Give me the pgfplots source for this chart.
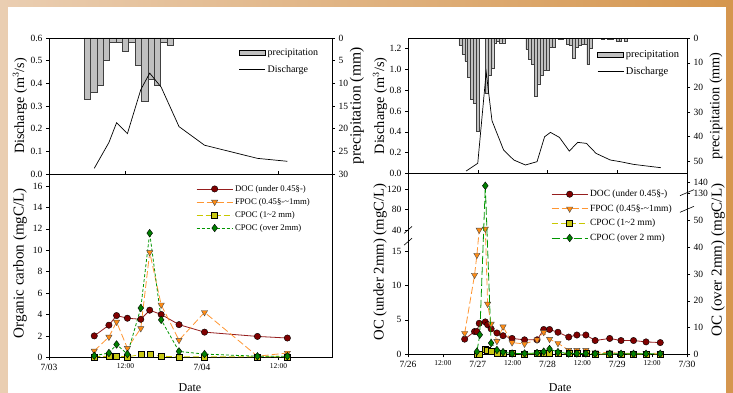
\documentclass[border=0pt]{standalone}
\usepackage{fontspec}
\setmainfont{Liberation Serif}
\usepackage{graphicx}
\usepackage{pgfplots}
\usepackage{pgfplotstable}
\pgfplotsset{compat=1.18}

\definecolor{bgbeige}{RGB}{234,206,178}
\definecolor{bgorange}{RGB}{213,150,78}
\definecolor{bargray}{RGB}{192,192,192}
\definecolor{docline}{RGB}{150,30,30}
\definecolor{docfill}{RGB}{128,0,0}
\definecolor{fpocline}{RGB}{255,150,50}
\definecolor{fpocfill}{RGB}{255,140,20}
\definecolor{cpocline}{RGB}{200,200,0}
\definecolor{cpocfill}{RGB}{200,200,20}
\definecolor{cpgline}{RGB}{0,150,0}
\definecolor{cpgfill}{RGB}{0,128,0}

\pgfplotsset{
  base/.style={scale only axis, anchor=south west,
    /pgf/number format/assume math mode=true,
    tick label style={font=\fontsize{9.5}{10}\selectfont},
    tick align=outside, major tick length=3pt,
    axis line style={line width=0.6pt},
    every tick/.style={black, line width=0.5pt},
    label style={font=\fontsize{12}{12}\selectfont},
    clip=false},
  docstyle/.style={docline, line width=0.8pt, mark=*, mark size=3.2pt,
    mark options={solid, fill=docfill, draw=black, line width=0.4pt}},
  fpocstyle/.style={fpocline, line width=0.8pt, dash pattern=on 7pt off 3pt, mark=triangle*, mark size=3.6pt,
    mark options={solid, rotate=180, fill=fpocfill, draw=black!70, line width=0.4pt}},
  cp12style/.style={cpocline, line width=0.8pt, dash pattern=on 6pt off 3pt, mark=square*, mark size=3pt,
    mark options={solid, fill=cpocfill, draw=black, line width=0.4pt}},
  cp2style/.style={cpgline, line width=0.8pt, dash pattern=on 3pt off 2pt, mark=diamond*, mark size=3.8pt,
    mark options={solid, fill=cpgfill, draw=black, line width=0.4pt}},
  cp2styleR/.style={cpgline, line width=0.8pt, dash pattern=on 8pt off 3pt, mark=diamond*, mark size=3.8pt,
    mark options={solid, fill=cpgfill, draw=black, line width=0.4pt}},
  mylegimg/.style={legend image code/.code={\draw[##1, mark repeat=2, mark phase=2] plot coordinates {(0pt,0pt) (18pt,0pt) (36pt,0pt)};}},
  lineleg/.style={legend image code/.code={\draw[##1] (0pt,0pt) -- (26pt,0pt);}},
  barleg/.style={legend image code/.code={\draw[fill=bargray, draw=black, line width=0.5pt] (0pt,-2.5pt) rectangle (26pt,2.5pt);}},
}

% ---- left event (7/03-7/04) ----
\pgfplotstableread{
h p
6 13.5
7 12.0
8 10.5
9 5.0
10 1.0
11 1.0
12 3.0
13 1.0
14 6.0
15 14.0
16 9.1
17 10.5
18 1.0
19 1.5
}\precipA

\pgfplotstableread{
h q
7.1 0.025
9.4 0.139
10.6 0.226
12.3 0.178
14.4 0.372
15.8 0.445
17.6 0.383
20.4 0.209
24.4 0.127
32.7 0.069
37.4 0.056
}\dischA

\pgfplotstableread{
h doc fpoc cp12 cp2
7.1 2.0 0.6 0.05 0.15
9.4 3.0 1.9 0.1 0.4
10.6 3.9 3.3 0.1 1.2
12.3 3.65 0.85 0.05 0.3
14.4 3.55 2.7 0.25 4.6
15.8 4.4 9.8 0.25 11.6
17.6 4.0 4.9 0.1 3.5
20.4 3.05 1.6 0.05 0.55
24.4 2.35 4.2 0.05 0.3
32.7 1.95 0.1 0.05 0.1
37.4 1.8 0.4 0.05 0.1
}\ocA

% ---- right event (7/26-7/30) ----
\pgfplotstableread{
h p
18 2.8
19 6.3
20 9.2
21 16
22 25
23 26.5
24 38
27 22.5
28 15
29 12
30 1.8
31 1.0
32 1.8
33 1.8
41 4.5
42 8.5
43 10.5
44 23.5
45 18.5
46 15
47 13
48 13
49 3.5
50 3.5
52 0.5
53 0.5
55 2.3
56 2.8
57 8
58 3.7
59 3
60 2.3
61 2.3
62 10.7
63 3.9
67 0.5
69 0.5
70 0.3
72 1.0
73 1.0
75 1.3
}\precipB

\pgfplotstableread{
h q
20.0 0.022
24.0 0.096
26.9 0.976
28.9 0.506
32.9 0.224
36.4 0.128
40.4 0.080
44.4 0.112
47.0 0.352
49.0 0.394
52.1 0.346
55.5 0.214
58.4 0.298
61.4 0.288
64.7 0.192
69.6 0.128
73.0 0.112
77.6 0.086
82.2 0.070
87.0 0.054
}\dischB

\pgfplotstableread{
h doc fpoc cp12
19.5 2.2 3.05 nan
22.9 3.3 11.5 nan
23.7 3.3 14.4 0.05
24.5 4.5 40.6 0.05
26.6 4.7 42.6 0.8
27.4 4.3 7.3 0.6
28.6 3.7 4.4 0.4
30.6 3.1 1.9 0.1
32.7 2.7 4.0 0.1
35.8 2.3 1.7 0.1
40.1 2.1 1.5 0.05
44.4 2.1 2.1 0.1
46.7 3.6 3.2 0.1
48.7 3.6 2.2 0.15
51.6 3.2 1.6 0.1
55.3 2.5 0.6 0.1
58.1 2.8 0.6 0.1
61.2 2.8 0.6 0.1
64.4 2.0 0.25 0.05
69.4 2.3 0.25 0.05
73.3 2.0 0.15 0.05
77.6 2.0 0.15 0.05
81.9 1.8 0.15 0.05
86.8 1.7 0.15 0.05
}\ocB

\pgfplotstableread{
h v
23.7 1.0
24.7 7.3
26.6 137
28.6 4.2
30.6 1.6
32.7 0.8
35.8 0.3
40.1 0.3
44.4 0.5
46.7 1.0
48.7 2.0
51.6 0.8
55.3 0.3
58.1 0.3
61.2 0.3
64.4 0.2
69.4 0.2
73.3 0.2
77.6 0.2
81.9 0.2
86.8 0.2
}\cpB

\begin{document}
\begin{tikzpicture}
\path[use as bounding box] (0pt,0pt) rectangle (733pt,393pt);
\shade[left color=bgbeige, right color=bgorange] (0pt,0pt) rectangle (733pt,393pt);
\fill[white] (8pt,0pt) rectangle (726pt,385.7pt);

% ===== Left top: precipitation (right axis) =====
\begin{axis}[base, at={(49pt,219pt)}, width=283pt, height=136pt,
  xmin=0, xmax=44.4, ymin=0, ymax=30, y dir=reverse,
  axis x line=none, axis y line*=right, ytick={0,5,10,15,20,25,30},
  ylabel={\resizebox{117pt}{!}{precipitation (mm)}},
  ylabel style={at={(axis description cs:1.088,0.5)}, anchor=center}]
\addplot[ybar, bar width=6.375pt, fill=bargray, draw=black!75, line width=0.4pt] table[x=h,y=p]{\precipA};
\end{axis}
% ===== Left top: discharge =====
\begin{axis}[base, at={(49pt,219pt)}, width=283pt, height=136pt,
  xmin=0, xmax=44.4, ymin=0, ymax=0.6,
  ytick={0,0.1,0.2,0.3,0.4,0.5,0.6},
  yticklabel style={/pgf/number format/.cd, fixed, fixed zerofill, precision=1},
  ytick pos=left, xtick={12,36}, xticklabels={}, xtick pos=bottom, x tick style={yshift=3pt},
  ylabel={\resizebox{96pt}{!}{Discharge (m$^{3}$/s)}},
  ylabel style={at={(axis description cs:-0.1025,0.5)}, anchor=center},
  legend style={at={(rel axis cs:0.66,0.95)}, anchor=north west, draw=none, fill=none,
    font=\fontsize{10}{11}\selectfont, row sep=4pt},
  legend cell align=left]
\addlegendimage{barleg}
\addlegendentry{precipitation}
\addplot[black, line width=0.7pt, lineleg] table[x=h,y=q]{\dischA};
\addlegendentry{Discharge}
\end{axis}

% ===== Left bottom: organic carbon =====
\begin{axis}[base, at={(49pt,35.7pt)}, width=283pt, height=183.3pt,
  xmin=0, xmax=44.4, ymin=0, ymax=17.12,
  ytick={0,2,4,6,8,10,12,14,16}, ytick pos=left,
  xtick={0,12,24,36},
  xticklabels={7/03,{\fontsize{7.5}{8}\selectfont 12:00},7/04,{\fontsize{7.5}{8}\selectfont 12:00}},
  xtick pos=bottom,
  xlabel={Date}, xlabel style={at={(axis description cs:0.498,-0.1675)}, anchor=center},
  ylabel={\resizebox{150pt}{!}{Organic carbon (mgC/L)}},
  ylabel style={at={(axis description cs:-0.1025,0.514)}, anchor=center},
  legend style={at={(rel axis cs:0.509,0.962)}, anchor=north west, draw=none, fill=none,
    font=\fontsize{8.7}{9}\selectfont, row sep=1.5pt},
  legend cell align=left]
\addplot[docstyle, mylegimg] table[x=h,y=doc]{\ocA};
\addlegendentry{DOC (under 0.45§-)}
\addplot[fpocstyle, mylegimg] table[x=h,y=fpoc]{\ocA};
\addlegendentry{FPOC (0.45§-\textasciitilde1mm)}
\addplot[cp12style, mylegimg] table[x=h,y=cp12]{\ocA};
\addlegendentry{CPOC (1\textasciitilde2 mm)}
\addplot[cp2style, mylegimg] table[x=h,y=cp2]{\ocA};
\addlegendentry{CPOC (over 2mm)}
\end{axis}

% ===== Right top: precipitation =====
\begin{axis}[base, at={(408pt,219.7pt)}, width=279pt, height=135pt,
  xmin=0, xmax=96, ymin=0, ymax=55, y dir=reverse,
  axis x line=none, axis y line*=right, ytick={0,10,20,30,40,50},
  ylabel={\resizebox{107pt}{!}{precipitation (mm)}},
  ylabel style={at={(axis description cs:1.104,0.5)}, anchor=center}]
\addplot[ybar, bar width=2.906pt, fill=bargray, draw=black!75, line width=0.35pt] table[x=h,y=p]{\precipB};
\end{axis}
% ===== Right top: discharge =====
\begin{axis}[base, at={(408pt,219.7pt)}, width=279pt, height=135pt,
  xmin=0, xmax=96, ymin=0, ymax=1.3,
  ytick={0,0.2,0.4,0.6,0.8,1.0,1.2},
  yticklabel style={/pgf/number format/.cd, fixed, fixed zerofill, precision=1},
  ytick pos=left, xtick={24,48,72}, xticklabels={}, xtick pos=bottom, x tick style={yshift=3pt},
  ylabel={\resizebox{97pt}{!}{Discharge (m$^{3}$/s)}},
  ylabel style={at={(axis description cs:-0.1,0.5)}, anchor=center},
  legend style={at={(rel axis cs:0.667,0.94)}, anchor=north west, draw=none, fill=none,
    font=\fontsize{10.5}{11}\selectfont, row sep=4pt},
  legend cell align=left]
\addlegendimage{barleg}
\addlegendentry{precipitation}
\addplot[black, line width=0.7pt, lineleg] table[x=h,y=q]{\dischB};
\addlegendentry{Discharge}
\end{axis}

% ===== Right bottom: OC under 2 mm (broken left axis) =====
\begin{axis}[base, at={(408pt,38.7pt)}, width=279pt, height=181pt,
  xmin=0, xmax=96, ymin=0, ymax=26.27,
  ytick={0,5,10,15,18,21,24}, yticklabels={0,5,10,15,40,80,120}, ytick pos=left,
  xtick={0,12,24,36,48,60,72,84,96},
  xticklabels={7/26,{\fontsize{7.5}{8}\selectfont 12:00},7/27,{\fontsize{7.5}{8}\selectfont 12:00},7/28,{\fontsize{7.5}{8}\selectfont 12:00},7/29,{\fontsize{7.5}{8}\selectfont 12:00},7/30},
  xtick pos=bottom,
  xlabel={Date}, xlabel style={at={(axis description cs:0.5455,-0.186)}, anchor=center},
  ylabel={\resizebox{157pt}{!}{OC (under 2mm) (mgC/L)}},
  ylabel style={at={(axis description cs:-0.1,0.51)}, anchor=center},
  legend style={at={(rel axis cs:0.502,0.93)}, anchor=north west, draw=none, fill=white,
    font=\fontsize{9.5}{10}\selectfont, row sep=2.5pt},
  legend cell align=left]
\addplot[docstyle, mylegimg] table[x=h,y=doc]{\ocB};
\addlegendentry{DOC (under 0.45§-)}
\addplot[fpocstyle, mylegimg] table[x=h, y expr={\thisrow{fpoc}<=16.2 ? \thisrow{fpoc} : 18+0.075*(\thisrow{fpoc}-40)}]{\ocB};
\addlegendentry{FPOC (0.45§-\textasciitilde1mm)}
\addplot[cp12style, mylegimg] table[x=h,y=cp12]{\ocB};
\addlegendentry{CPOC (1\textasciitilde2 mm)}
\addlegendimage{cp2styleR, mylegimg}
\addlegendentry{CPOC (over 2 mm)}
\draw[black, line width=0.6pt] (rel axis cs:0,0.622) ++(-4pt,-3.5pt) -- ++(8pt,7pt);
\draw[black, line width=0.6pt] (rel axis cs:0,0.687) ++(-4pt,-3.5pt) -- ++(8pt,7pt);
\end{axis}
% ===== Right bottom: OC over 2 mm (broken right axis) =====
\begin{axis}[base, at={(408pt,38.7pt)}, width=279pt, height=181pt,
  xmin=0, xmax=96, ymin=0, ymax=26.27,
  axis x line=none, axis y line*=right,
  ytick={0,3.88,7.76,11.64,15.52,19.4,23.37,24.92}, yticklabels={0,10,20,30,40,50,130,140},
  ylabel={\resizebox{153pt}{!}{OC (over 2mm) (mgC/L)}},
  ylabel style={at={(axis description cs:1.111,0.52)}, anchor=center}]
\addplot[cp2styleR] table[x=h, y expr={\thisrow{v}<=60 ? 0.388*\thisrow{v} : 23.37+0.155*(\thisrow{v}-130)}]{\cpB};
\draw[black, line width=0.6pt] (rel axis cs:1,0.801) ++(-7pt,-3pt) -- ++(14pt,6pt);
\draw[black, line width=0.6pt] (rel axis cs:1,0.893) ++(-7pt,-3pt) -- ++(14pt,6pt);
\end{axis}
\end{tikzpicture}
\end{document}
